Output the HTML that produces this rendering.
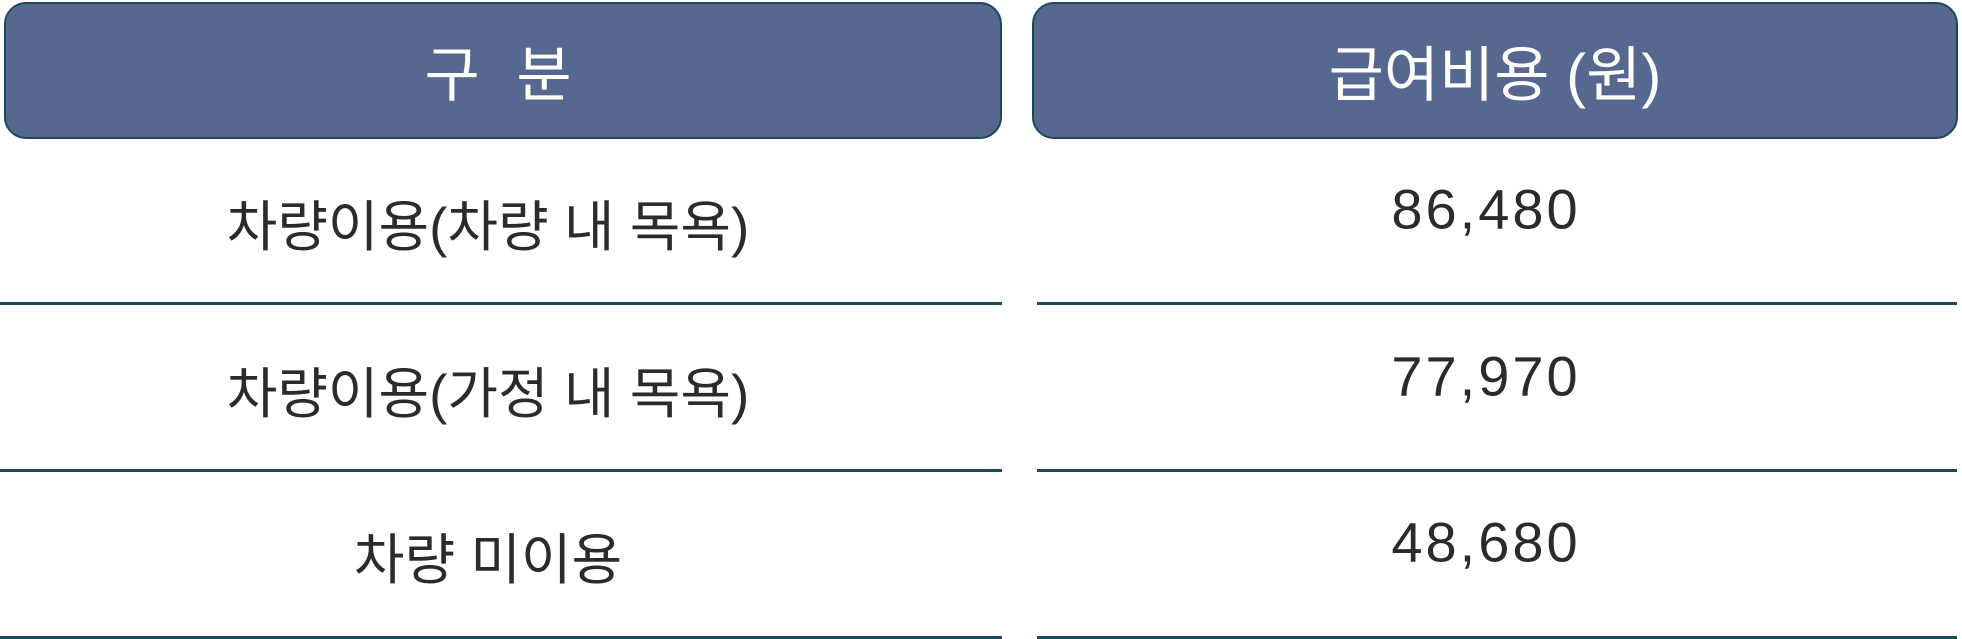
<!DOCTYPE html>
<html><head><meta charset="utf-8"><style>
body{margin:0;width:1962px;height:639px;background:#fff;position:relative;overflow:hidden;font-family:"Liberation Sans","Noto Sans CJK KR",sans-serif;}
.h{position:absolute;top:2px;height:137px;background:#56688f;border:2px solid #1d4a5a;border-radius:22px;box-sizing:border-box;color:#fff;font-size:60px;display:flex;align-items:center;justify-content:center;}
.l{position:absolute;height:3px;background:#1d4a5a;}
.t{position:absolute;color:#2d2a2a;transform:translate(-50%,-50%);white-space:nowrap;}
.k{font-size:55px;}
.n{font-size:56px;letter-spacing:3px;}
</style></head><body>
<div class="h" style="left:4px;width:998px;"><span style="letter-spacing:10px">구 분</span></div>
<div class="h" style="left:1032px;width:926px;">급여비용 (원)</div>
<div class="l" style="left:0;width:1002px;top:302px"></div>
<div class="l" style="left:1037px;width:920px;top:302px"></div>
<div class="l" style="left:0;width:1002px;top:469px"></div>
<div class="l" style="left:1037px;width:920px;top:469px"></div>
<div class="l" style="left:0;width:1002px;top:636px"></div>
<div class="l" style="left:1037px;width:920px;top:636px"></div>
<div class="t k" style="left:488px;top:222px">차량이용(차량 내 목욕)</div>
<div class="t k" style="left:488px;top:389px">차량이용(가정 내 목욕)</div>
<div class="t k" style="left:488px;top:555px">차량 미이용</div>
<div class="t n" style="left:1486px;top:209px">86,480</div>
<div class="t n" style="left:1486px;top:376px">77,970</div>
<div class="t n" style="left:1486px;top:542px">48,680</div>
</body></html>
